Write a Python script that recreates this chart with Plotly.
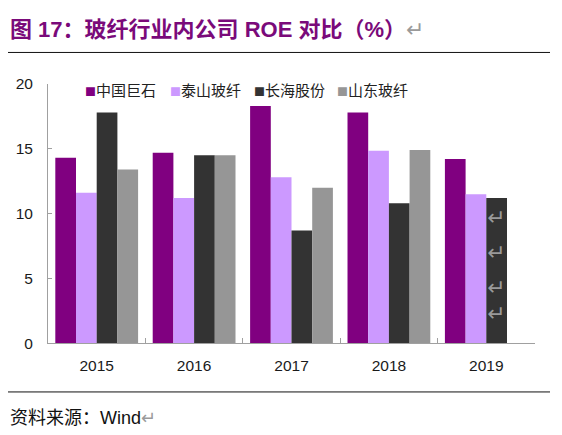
import plotly.graph_objects as go

years = ["2015", "2016", "2017", "2018", "2019"]
companies = ["中国巨石", "泰山玻纤", "长海股份", "山东玻纤"]
jushi = [14.3, 14.7, 18.3, 17.8, 14.2]
taishan = [11.6, 11.2, 12.8, 14.85, 11.5]
changhai = [17.8, 14.5, 8.7, 10.8, 11.2]
shandong = [13.4, 14.5, 12.0, 14.9, None]
colors = ["#800080", "#CC99FF", "#333333", "#969696"]

W, H = 562, 435
cjk = "Noto Sans CJK SC"
latin = "Liberation Sans, Arial, Noto Sans CJK SC"


def px(x):
    # page x (px) -> paper fraction
    return x / W


def py(y):
    # page y (px, from top) -> paper fraction
    return 1 - y / H


fig = go.Figure()
for name, vals, c in zip(companies, [jushi, taishan, changhai, shandong], colors):
    fig.add_trace(go.Bar(x=years, y=vals, name=name, marker_color=c, marker_line_width=0))

fig.update_layout(
    width=W, height=H,
    margin=dict(l=0, r=0, t=0, b=0),
    paper_bgcolor="white", plot_bgcolor="white",
    barmode="group", bargap=0.15, bargroupgap=0,
    showlegend=False,
)
fig.update_xaxes(domain=[px(40), px(527)], showline=True, linecolor="#A0A0A0", linewidth=1,
                 ticks="inside", ticklen=5, tickcolor="#A0A0A0", tickson="boundaries",
                 ticklabelstandoff=8,
                 tickfont=dict(family=latin, size=15.5, color="#1A1A1A"))
fig.update_yaxes(domain=[py(339.6), py(69.6)], range=[0, 20], dtick=5,
                 showline=True, linecolor="#A0A0A0", linewidth=1, showgrid=False,
                 ticks="inside", ticklen=4, tickcolor="#A0A0A0", zeroline=False,
                 ticklabelstandoff=11,
                 tickfont=dict(family=latin, size=15.5, color="#1A1A1A"))

# legend: small coloured square + company name
legend_x = [75, 160, 244, 327]
for name, c, lx in zip(companies, colors, legend_x):
    fig.add_annotation(x=px(lx), y=py(75), xref="paper", yref="paper", xanchor="left", yanchor="middle",
                       showarrow=False,
                       text=f"<span style='color:{c};font-size:11px'>■</span>{name}",
                       font=dict(family=cjk, size=15, color="#222222"))

# title
fig.add_annotation(x=0, y=1, xref="paper", yref="paper", xanchor="left", yanchor="top", yshift=2,
                   showarrow=False,
                   text="<b>图 17：玻纤行业内公司 ROE 对比（%）</b><span style='color:#9A9A9A'>↵</span>",
                   font=dict(family=latin, size=22, color="#7A0A7A"))

# horizontal rules above and below the chart
for yy in [36.9, 390.2]:
    fig.add_shape(type="line", xref="paper", yref="paper", x0=0, x1=px(542),
                  y0=py(yy), y1=py(yy), line=dict(color="#111111", width=1))

# source line
fig.add_annotation(x=0, y=py(417), xref="paper", yref="paper", xanchor="left", yanchor="middle",
                   showarrow=False,
                   text="资料来源：Wind<span style='color:#9A9A9A'>↵</span>",
                   font=dict(family=latin, size=18, color="#111111"))

# stray paragraph marks from the source document
for yy in [209, 245.5, 282, 324]:
    fig.add_annotation(x=px(499), y=py(yy), xref="paper", yref="paper", showarrow=False,
                       text="↵", font=dict(family="DejaVu Sans", size=22, color="#9A9A9A"))

fig.write_html("out.html")
